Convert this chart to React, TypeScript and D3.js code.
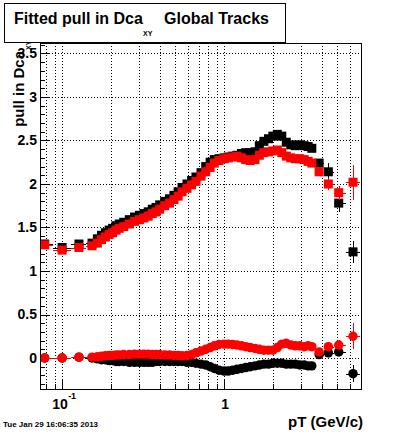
import React, { useEffect, useRef } from 'react';
import * as d3 from 'd3';

// pT bin centres (GeV/c)
const ptBins = [
  0.078, 0.1, 0.127, 0.153,
  0.165, 0.175, 0.185, 0.195, 0.205, 0.215, 0.225, 0.24, 0.26, 0.28,
  0.3, 0.32, 0.34, 0.36, 0.38, 0.4, 0.43, 0.46, 0.49, 0.52,
  0.55, 0.59, 0.63, 0.67, 0.72, 0.77, 0.82, 0.87, 0.93, 1.0,
  1.06, 1.13, 1.2, 1.28, 1.36, 1.45, 1.55, 1.65, 1.76, 1.88,
  2.0, 2.13, 2.27, 2.42, 2.58, 2.75, 2.93, 3.12, 3.3, 3.48,
  3.86, 4.4, 5.1, 6.25,
];

// sigma of the fitted pull (squares)
const blackSigma = [
  1.31, 1.27, 1.31, 1.32,
  1.37, 1.41, 1.44, 1.47, 1.49, 1.52, 1.54, 1.56, 1.59, 1.62,
  1.64, 1.66, 1.68, 1.71, 1.73, 1.76, 1.80, 1.83, 1.87, 1.91,
  1.96, 2.00, 2.04, 2.08, 2.13, 2.20, 2.25, 2.28, 2.29, 2.30,
  2.31, 2.32, 2.33, 2.35, 2.36, 2.36, 2.37, 2.44, 2.49, 2.52,
  2.55, 2.57, 2.55, 2.48, 2.45, 2.44, 2.45, 2.44, 2.43, 2.41,
  2.24, 2.14, 1.78, 1.22,
];
const redSigma = [
  1.30, 1.24, 1.27, 1.29,
  1.32, 1.36, 1.39, 1.42, 1.44, 1.47, 1.49, 1.51, 1.54, 1.57,
  1.59, 1.61, 1.63, 1.66, 1.68, 1.71, 1.75, 1.78, 1.82, 1.86,
  1.91, 1.95, 1.99, 2.03, 2.09, 2.14, 2.19, 2.24, 2.27, 2.29,
  2.30, 2.31, 2.32, 2.30, 2.28, 2.27, 2.28, 2.33, 2.36, 2.37,
  2.38, 2.39, 2.36, 2.32, 2.30, 2.29, 2.29, 2.28, 2.26, 2.24,
  2.14, 2.00, 1.90, 2.02,
];

// mean of the fitted pull (circles)
const blackMean = [
  0.0, 0.0, 0.01, 0.0,
  -0.01, -0.02, -0.02, -0.03, -0.03, -0.04, -0.04, -0.04, -0.05, -0.05,
  -0.05, -0.05, -0.05, -0.05, -0.04, -0.04, -0.04, -0.04, -0.04, -0.04,
  -0.04, -0.05, -0.05, -0.06, -0.07, -0.08, -0.10, -0.12, -0.14, -0.15,
  -0.15, -0.14, -0.13, -0.12, -0.11, -0.10, -0.09, -0.08, -0.07, -0.07,
  -0.06, -0.06, -0.06, -0.07, -0.07, -0.07, -0.08, -0.08, -0.09, -0.09,
  0.04, 0.06, 0.07, -0.18,
];
const redMean = [
  0.0, 0.0, 0.01, 0.01,
  0.015, 0.02, 0.025, 0.03, 0.03, 0.035, 0.035, 0.04, 0.04, 0.045,
  0.045, 0.045, 0.045, 0.04, 0.04, 0.04, 0.035, 0.035, 0.03, 0.03,
  0.025, 0.03, 0.04, 0.06, 0.08, 0.10, 0.12, 0.14, 0.155, 0.16,
  0.16, 0.155, 0.15, 0.14, 0.13, 0.12, 0.11, 0.10, 0.09, 0.09,
  0.09, 0.12, 0.16, 0.17, 0.15, 0.14, 0.14, 0.13, 0.14, 0.13,
  0.07, 0.13, 0.15, 0.25,
];

// errors on the last four (sparse) bins, the rest are hidden under the markers
const blackSigmaTailErr = [0.05, 0.1, 0.1, 0.13];
const redSigmaTailErr = [0.05, 0.07, 0.08, 0.2];
const blackMeanTailErr = [0.03, 0.05, 0.05, 0.1];
const redMeanTailErr = [0.03, 0.05, 0.06, 0.15];

const yLabels = [0, 0.5, 1, 1.5, 2, 2.5, 3, 3.5];

const FONT = '"Liberation Sans", Arial, Helvetica, sans-serif';

export default function App() {
  const svgRef = useRef<SVGSVGElement>(null);

  useEffect(() => {
    const svg = d3.select(svgRef.current);
    svg.selectAll('*').remove();

    const frame = { left: 40, top: 43, right: 361, bottom: 389 };

    const x = d3.scaleLog().domain([0.073, 7.0]).range([frame.left, frame.right]);
    const y = d3.scaleLinear().domain([-0.356, 3.62]).range([frame.bottom, frame.top]);

    svg.append('rect').attr('width', 400).attr('height', 433).attr('fill', '#fff');

    svg.append('clipPath').attr('id', 'frameClip')
      .append('rect')
      .attr('x', frame.left).attr('y', frame.top)
      .attr('width', frame.right - frame.left).attr('height', frame.bottom - frame.top);

    // grid
    const xTicks = x.ticks().filter(t => x(t) > frame.left + 1 && x(t) < frame.right - 1);
    const grid = svg.append('g')
      .attr('stroke', '#000').attr('stroke-width', 1).attr('stroke-dasharray', '1,2')
      .attr('shape-rendering', 'crispEdges');
    grid.selectAll('.gx').data(xTicks).join('line')
      .attr('x1', d => Math.round(x(d)) + 0.5).attr('x2', d => Math.round(x(d)) + 0.5)
      .attr('y1', frame.top).attr('y2', frame.bottom);
    grid.selectAll('.gy').data(yLabels).join('line')
      .attr('x1', frame.left).attr('x2', frame.right)
      .attr('y1', d => Math.round(y(d)) + 0.5).attr('y2', d => Math.round(y(d)) + 0.5);

    // y axis, ticks pointing into the frame
    const yMinor = d3.range(-3, 37).map(i => i / 10).filter(v => yLabels.indexOf(v) < 0);
    svg.append('g')
      .attr('transform', `translate(${frame.left},0)`)
      .call(d3.axisLeft(y).tickValues(yMinor).tickSizeInner(-4.8).tickSizeOuter(0).tickFormat(() => ''))
      .call(g => g.select('.domain').remove());
    const yAxis = svg.append('g')
      .attr('transform', `translate(${frame.left},0)`)
      .call(d3.axisLeft(y).tickValues(yLabels).tickSizeInner(-9.6).tickSizeOuter(0).tickPadding(3)
        .tickFormat(d => String(d)))
      .call(g => g.select('.domain').remove());
    yAxis.selectAll('text')
      .attr('font-family', FONT).attr('font-weight', 'bold').attr('font-size', 14).attr('fill', '#000');

    // x axis, log ticks pointing up
    const decades = xTicks.filter(t => Math.abs(Math.log10(t) - Math.round(Math.log10(t))) < 1e-6);
    svg.append('g')
      .attr('transform', `translate(0,${frame.bottom})`)
      .call(d3.axisBottom(x).tickValues(xTicks.filter(t => decades.indexOf(t) < 0))
        .tickSizeInner(-5.2).tickSizeOuter(0).tickFormat(() => ''))
      .call(g => g.select('.domain').remove());
    svg.append('g')
      .attr('transform', `translate(0,${frame.bottom})`)
      .call(d3.axisBottom(x).tickValues(decades).tickSizeInner(-10.4).tickSizeOuter(0).tickFormat(() => ''))
      .call(g => g.select('.domain').remove());
    svg.selectAll('.tick line').attr('shape-rendering', 'crispEdges');

    const lab = svg.append('g').attr('font-family', FONT).attr('font-weight', 'bold').attr('fill', '#000');
    lab.append('text').attr('x', x(0.1) - 10).attr('y', 409).attr('font-size', 14).text('10');
    lab.append('text').attr('x', x(0.1) + 6).attr('y', 399).attr('font-size', 9).text('-1');
    lab.append('text').attr('x', x(1) + 1).attr('y', 409).attr('font-size', 14)
      .attr('text-anchor', 'middle').text('1');

    // axis titles
    lab.append('text').attr('x', 363).attr('y', 427).attr('font-size', 15)
      .attr('text-anchor', 'end').text('pT (GeV/c)');
    lab.append('text').attr('transform', 'translate(24,51) rotate(-90)').attr('font-size', 15)
      .attr('text-anchor', 'end').text('pull in Dca');
    lab.append('text').attr('transform', 'translate(31,50) rotate(-90)').attr('font-size', 7)
      .attr('text-anchor', 'start').text('XY');

    // data
    const n = ptBins.length;
    const lowEdge = (i: number) => i > 0 ? Math.sqrt(ptBins[i - 1] * ptBins[i]) : ptBins[0] / Math.sqrt(ptBins[1] / ptBins[0]);
    const highEdge = (i: number) => i < n - 1 ? Math.sqrt(ptBins[i] * ptBins[i + 1]) : ptBins[i] * Math.sqrt(ptBins[i] / ptBins[i - 1]);
    const tailErr = (arr: number[], i: number) => i >= n - 4 ? arr[i - (n - 4)] : 0.01;

    const series = [
      { values: blackSigma, err: blackSigmaTailErr, color: '#000000', shape: d3.symbolSquare },
      { values: redSigma, err: redSigmaTailErr, color: '#ff0000', shape: d3.symbolSquare },
      { values: blackMean, err: blackMeanTailErr, color: '#000000', shape: d3.symbolCircle },
      { values: redMean, err: redMeanTailErr, color: '#ff0000', shape: d3.symbolCircle },
    ];

    series.forEach(s => {
      const pts = s.values.map((v, i) => ({ i, pt: ptBins[i], v, e: tailErr(s.err, i) }));
      const g = svg.append('g');
      const bars = g.append('g').attr('clip-path', 'url(#frameClip)')
        .attr('stroke', s.color).attr('stroke-width', 1).attr('shape-rendering', 'crispEdges');
      bars.selectAll('.hx').data(pts).join('line')
        .attr('x1', d => x(lowEdge(d.i))).attr('x2', d => x(highEdge(d.i)))
        .attr('y1', d => Math.round(y(d.v)) + 0.5).attr('y2', d => Math.round(y(d.v)) + 0.5);
      bars.selectAll('.vy').data(pts).join('line')
        .attr('x1', d => Math.round(x(d.pt)) + 0.5).attr('x2', d => Math.round(x(d.pt)) + 0.5)
        .attr('y1', d => y(d.v - d.e)).attr('y2', d => y(d.v + d.e));
      const sym = d3.symbol().type(s.shape).size(s.shape === d3.symbolSquare ? 81 : 70);
      g.selectAll('path.m').data(pts).join('path')
        .attr('class', 'm')
        .attr('transform', d => `translate(${x(d.pt)},${y(d.v)})`)
        .attr('d', sym)
        .attr('fill', s.color);
    });

    // frame on top
    svg.append('rect')
      .attr('x', frame.left + 0.5).attr('y', frame.top + 0.5)
      .attr('width', frame.right - frame.left).attr('height', frame.bottom - frame.top)
      .attr('fill', 'none').attr('stroke', '#000').attr('stroke-width', 1);

    // title box
    svg.append('rect').attr('x', 4.5).attr('y', 3.5).attr('width', 281).attr('height', 39)
      .attr('fill', '#fff').attr('stroke', '#000').attr('stroke-width', 1);
    const t = svg.append('g').attr('font-family', FONT).attr('font-weight', 'bold').attr('fill', '#000');
    t.append('text').attr('x', 14).attr('y', 24).attr('font-size', 16).text('Fitted pull in Dca');
    t.append('text').attr('x', 143).attr('y', 36).attr('font-size', 7).text('XY');
    t.append('text').attr('x', 164).attr('y', 24).attr('font-size', 16).text('Global Tracks');

    // date stamp
    svg.append('text').attr('x', 3).attr('y', 427)
      .attr('font-family', FONT).attr('font-weight', 'bold').attr('font-size', 8)
      .text('Tue Jan 29 16:06:35 2013');
  }, []);

  return (
    <svg ref={svgRef} width={400} height={433}
      style={{ position: 'absolute', left: 0, top: 0, display: 'block' }} />
  );
}
